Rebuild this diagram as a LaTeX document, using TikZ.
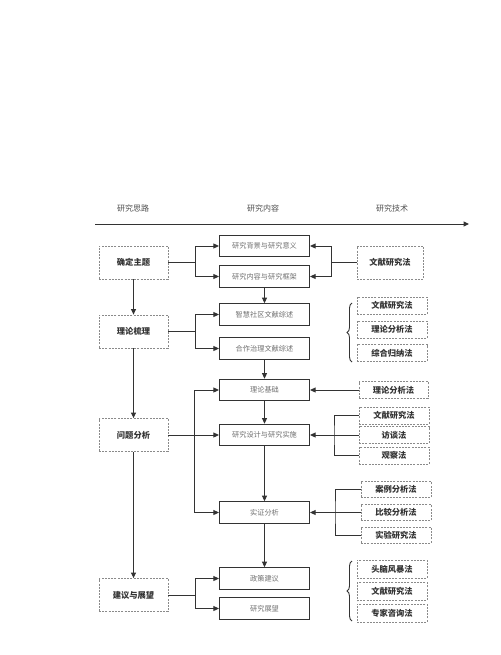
\documentclass[tikz,border=0pt]{standalone}
\usepackage{fontspec}
\setmainfont{Noto Sans CJK SC}
\usetikzlibrary{arrows.meta,decorations.pathreplacing,calc}
\definecolor{ink}{HTML}{333333}
\definecolor{midtext}{HTML}{707070}
\definecolor{dashc}{HTML}{8A8A8A}
\definecolor{headc}{HTML}{505050}
\begin{document}
\begin{tikzpicture}[x=1pt,y=-1pt,
  line/.style={draw=ink,line width=1pt},
  arr/.style={line,-{Triangle[length=5.5pt,width=5pt]}},
  head/.style={text=headc,font=\fontsize{8}{9}\selectfont,inner sep=0pt},
  midbox/.style={draw=ink,line width=1.2pt,minimum width=90pt,minimum height=21.5pt,inner sep=0pt,text=midtext,font=\fontsize{7.2}{8}\selectfont},
  leftbox/.style={draw=dashc,dashed,dash pattern=on 2pt off 1.2pt,line width=0.8pt,minimum width=69pt,minimum height=33pt,inner sep=0pt,text=ink,font=\bfseries\fontsize{8.3}{9}\selectfont},
  rightbig/.style={leftbox,minimum width=66pt},
  rightbox/.style={draw=dashc,dashed,dash pattern=on 2pt off 1.2pt,line width=0.8pt,minimum width=70pt,minimum height=17pt,inner sep=0pt,text=ink,font=\bfseries\fontsize{8.3}{9}\selectfont},
  bracedec/.style={line,decorate,decoration={brace,amplitude=5pt}}
]
\useasboundingbox (0,0) rectangle (500,655);

% header
\node[head] (h1) at (133,208) {研究思路};
\node[head] (h2) at (263,208) {研究内容};
\node[head] (h3) at (392,208) {研究技术};
\coordinate (ax1) at (95,224);
\coordinate (ax2) at (469,224);
\draw[arr] (ax1) -- (ax2);

% left column
\node[leftbox] (L1) at (133.5,262.5) {确定主题};
\node[leftbox] (L2) at (133.5,331.5) {理论梳理};
\node[leftbox] (L3) at (133.5,435) {问题分析};
\node[leftbox] (L4) at (133.5,595) {建议与展望};

% middle column
\node[midbox] (M1) at (264.5,246) {研究背景与研究意义};
\node[midbox] (M2) at (264.5,276.5) {研究内容与研究框架};
\node[midbox] (M3) at (264.5,314.5) {智慧社区文献综述};
\node[midbox] (M4) at (264.5,348.5) {合作治理文献综述};
\node[midbox] (M5) at (264.5,390) {理论基础};
\node[midbox] (M6) at (264.5,435) {研究设计与研究实施};
\node[midbox] (M7) at (264.5,512.5) {实证分析};
\node[midbox] (M8) at (264.5,578.5) {政策建议};
\node[midbox] (M9) at (264.5,608.5) {研究展望};

% right column
\node[rightbig] (R1) at (390,262.5) {文献研究法};
\node[rightbox] (R2a) at (392,305.5) {文献研究法};
\node[rightbox] (R2b) at (392,329.5) {理论分析法};
\node[rightbox] (R2c) at (392,353) {综合归纳法};
\node[rightbox,minimum width=69pt] (R3) at (393.5,390) {理论分析法};
\node[rightbox] (R4a) at (394,415.5) {文献研究法};
\node[rightbox] (R4b) at (394,435) {访谈法};
\node[rightbox] (R4c) at (394,455.5) {观察法};
\node[rightbox,minimum height=16pt] (R5a) at (396,489.5) {案例分析法};
\node[rightbox,minimum height=16pt] (R5b) at (396,512.5) {比较分析法};
\node[rightbox,minimum height=16pt] (R5c) at (396,535) {实验研究法};
\node[rightbox,minimum height=18pt] (R6a) at (392,569) {头脑风暴法};
\node[rightbox,minimum height=18pt] (R6b) at (392,591.5) {文献研究法};
\node[rightbox,minimum height=18pt] (R6c) at (392,613) {专家咨询法};

% left vertical flow
\draw[arr] (L1) -- (L2);
\draw[arr] (L2) -- (L3);
\draw[arr] (L3) -- (L4);

% middle vertical flow
\draw[arr] (M2) -- (M3);
\draw[arr] (M4) -- (M5);
\draw[arr] (M5) -- (M6);
\draw[arr] (M6) -- (M7);
\draw[arr] (M7) -- (M8);

% left splits
\coordinate (s1) at (195,262.5);
\draw[line] (L1.east) -- (s1);
\draw[arr] (s1) |- (M1.west);
\draw[arr] (s1) |- (M2.west);

\coordinate (s2) at (195,331.5);
\draw[line] (L2.east) -- (s2);
\draw[arr] (s2) |- (M3.west);
\draw[arr] (s2) |- (M4.west);

\coordinate (s3) at (194,435);
\draw[arr] (L3.east) -- (M6.west);
\draw[arr] (s3) |- (M5.west);
\draw[arr] (s3) |- (M7.west);

\coordinate (s4) at (195,595);
\draw[line] (L4.east) -- (s4);
\draw[arr] (s4) |- (M8.west);
\draw[arr] (s4) |- (M9.west);

% right connectors
\coordinate (r1) at (331,262.5);
\draw[line] (R1.west) -- (r1);
\draw[arr] (r1) |- (M1.east);
\draw[arr] (r1) |- (M2.east);

\draw[arr] (R3.west) -- (M5.east);

\coordinate (r4) at (334,435);
\draw[arr] (R4b.west) -- (M6.east);
\draw[line] (R4a.west) -| (r4) |- (R4c.west);

\coordinate (r5) at (335,512.5);
\draw[arr] (R5b.west) -- (M7.east);
\draw[line] (R5a.west) -| (r5) |- (R5c.west);

% braces
\coordinate (b2a) at (352,362);
\coordinate (b2b) at (352,303);
\draw[bracedec,line width=0.9pt] (b2a) -- (b2b);
\coordinate (b6a) at (352,621);
\coordinate (b6b) at (352,561);
\draw[bracedec,line width=0.9pt] (b6a) -- (b6b);
\end{tikzpicture}
\end{document}
